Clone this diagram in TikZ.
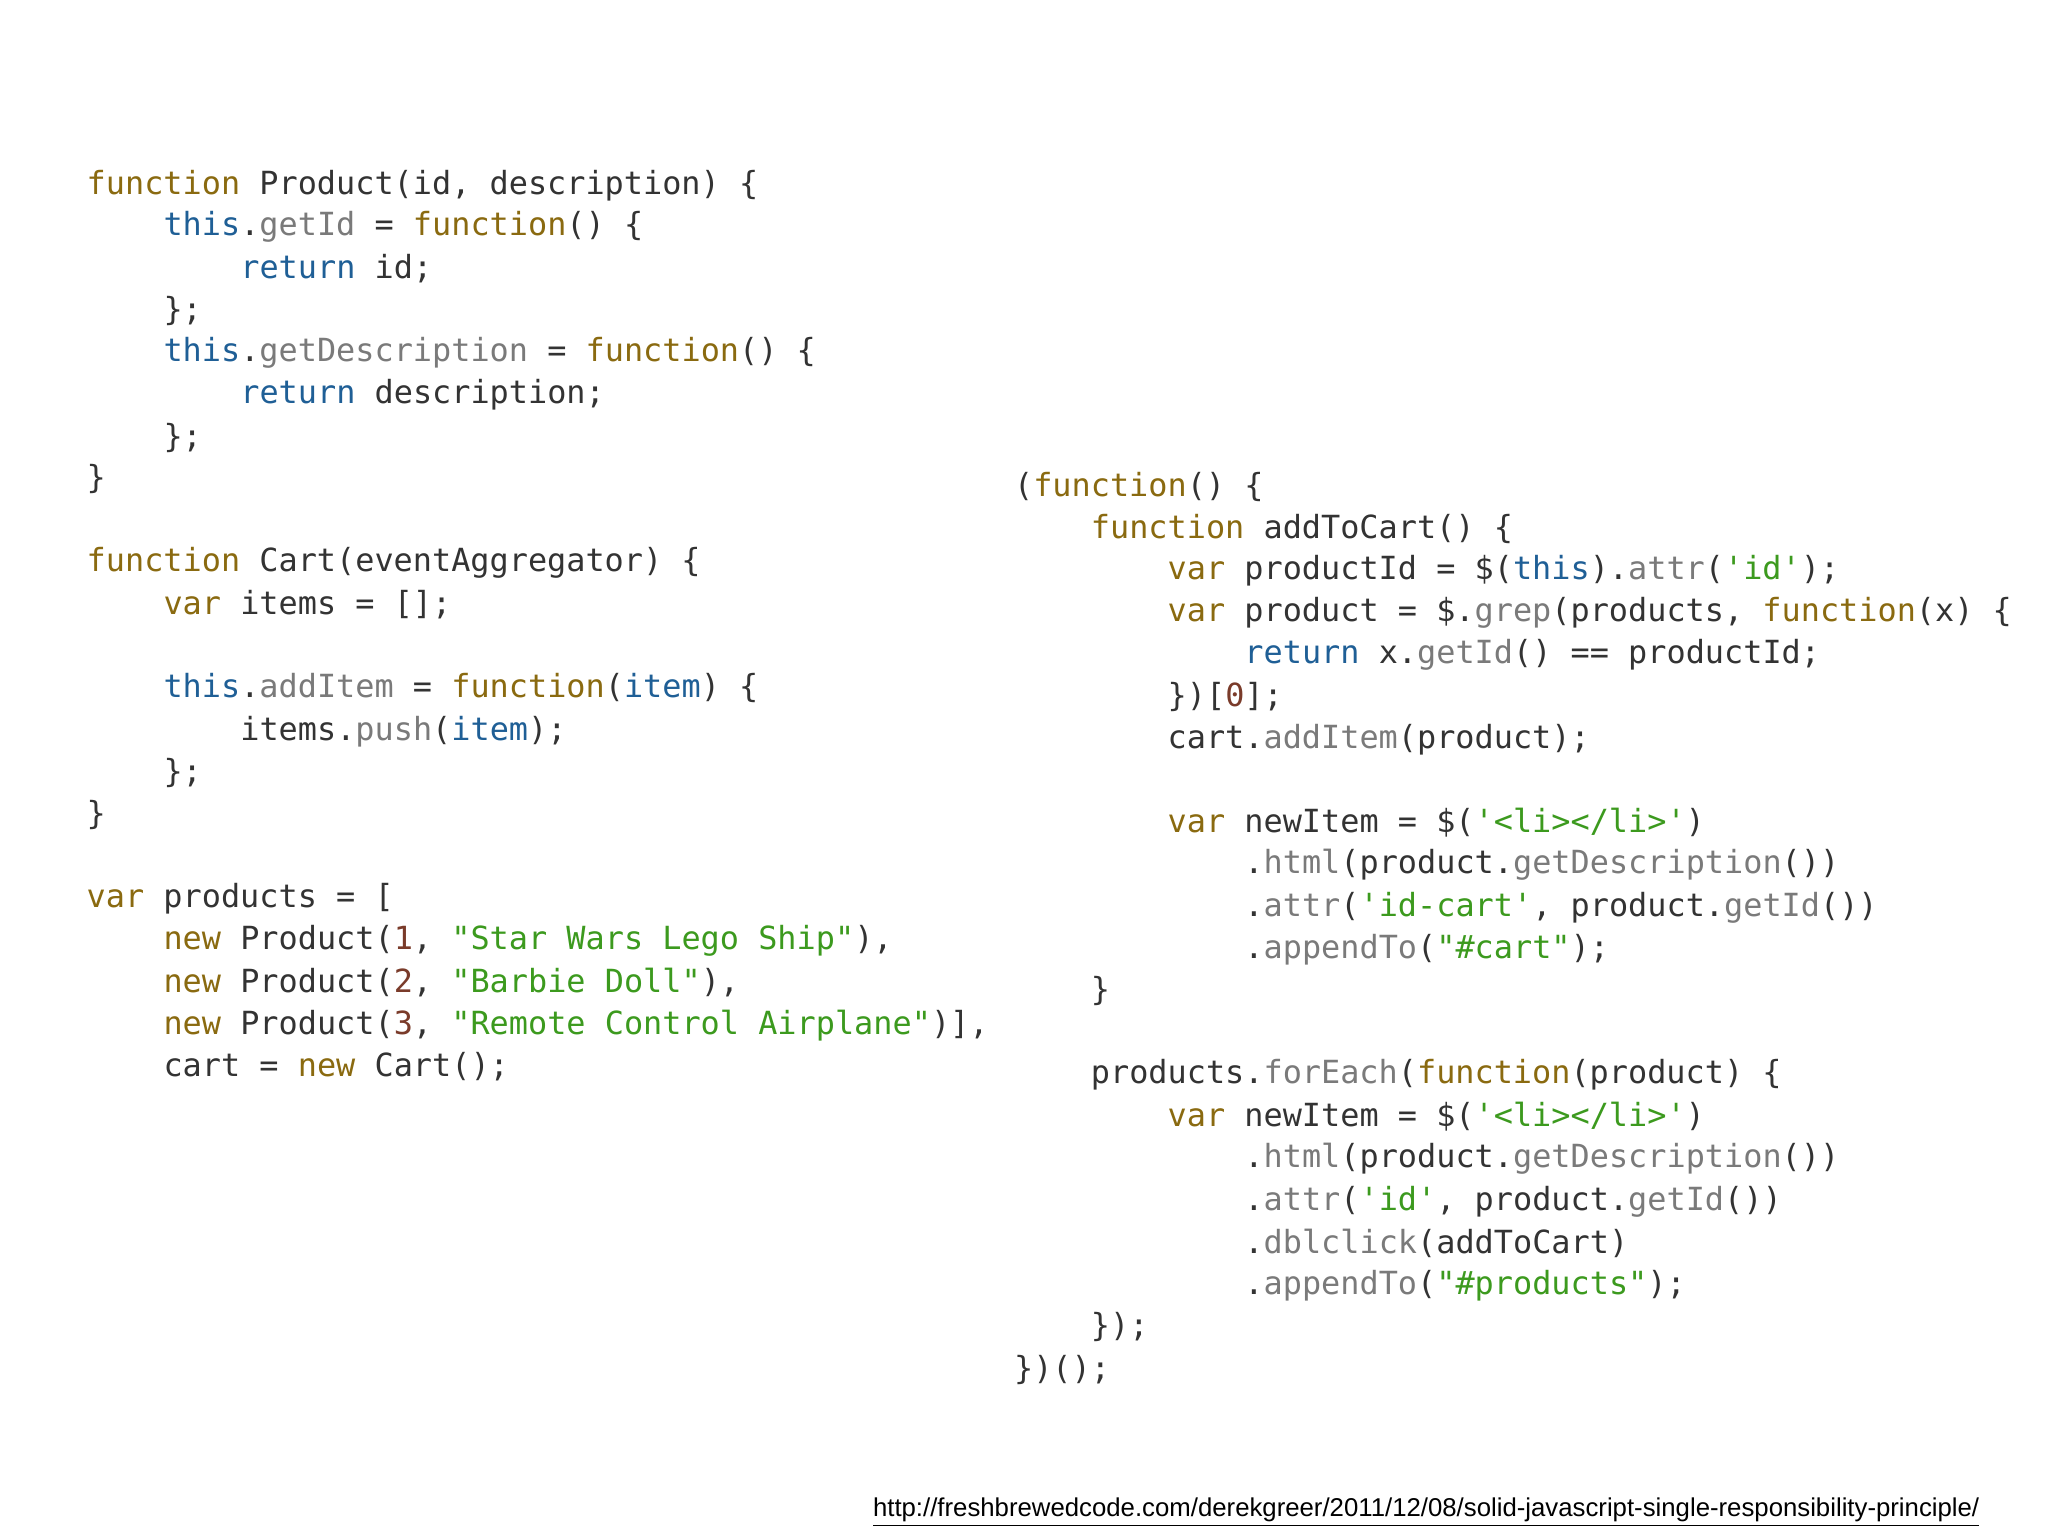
\documentclass[tikz,border=0pt]{standalone}
\usepackage{fontspec}
\newfontfamily\codefont{DejaVu Sans Mono}
\newfontfamily\urlfont{Liberation Sans}
\definecolor{kw}{HTML}{8A6A10}
\definecolor{bl}{HTML}{1F5F96}
\definecolor{st}{HTML}{3C9A1E}
\definecolor{me}{HTML}{7A7A7A}
\definecolor{nm}{HTML}{7A3B2A}
\definecolor{tx}{HTML}{333333}
\newcommand\kw[1]{\textcolor{kw}{#1}}
\newcommand\bl[1]{\textcolor{bl}{#1}}
\newcommand\st[1]{\textcolor{st}{#1}}
\newcommand\me[1]{\textcolor{me}{#1}}
\newcommand\nm[1]{\textcolor{nm}{#1}}
\begin{document}
\begin{tikzpicture}[x=0.5pt,y=-0.5pt,
  cl/.style={anchor=west,inner sep=0pt,text=tx,font=\codefont\fontsize{12.2}{14}\selectfont}]
\useasboundingbox[fill=white] (0,0) rectangle (1568,1176);
\def\L{66}\def\R{776}\def\I{58.8}
% left column
\node[cl] (a1) at (\L,142) {\kw{function} Product(id, description) \{};
\node[cl] (a2) at (\L+\I,174) {\bl{this}.\me{getId} = \kw{function}() \{};
\node[cl] (a3) at (\L+2*\I,206) {\bl{return} id;};
\node[cl] (a4) at (\L+\I,238) {\};};
\node[cl] (a5) at (\L+\I,270) {\bl{this}.\me{getDescription} = \kw{function}() \{};
\node[cl] (a6) at (\L+2*\I,302) {\bl{return} description;};
\node[cl] (a7) at (\L+\I,335) {\};};
\node[cl] (a8) at (\L,367) {\}};
\node[cl] (a9) at (\L,431) {\kw{function} Cart(eventAggregator) \{};
\node[cl] (a10) at (\L+\I,463) {\kw{var} items = [];};
\node[cl] (a11) at (\L+\I,527) {\bl{this}.\me{addItem} = \kw{function}(\bl{item}) \{};
\node[cl] (a12) at (\L+2*\I,560) {items.\me{push}(\bl{item});};
\node[cl] (a13) at (\L+\I,592) {\};};
\node[cl] (a14) at (\L,624) {\}};
\node[cl] (a15) at (\L,688) {\kw{var} products = [};
\node[cl] (a16) at (\L+\I,720) {\kw{new} Product(\nm{1}, \st{"Star Wars Lego Ship"}),};
\node[cl] (a17) at (\L+\I,752) {\kw{new} Product(\nm{2}, \st{"Barbie Doll"}),};
\node[cl] (a18) at (\L+\I,785) {\kw{new} Product(\nm{3}, \st{"Remote Control Airplane"})],};
\node[cl] (a19) at (\L+\I,817) {cart = \kw{new} Cart();};
% right column
\node[cl] (b1) at (\R,373) {(\kw{function}() \{};
\node[cl] (b2) at (\R+\I,405) {\kw{function} addToCart() \{};
\node[cl] (b3) at (\R+2*\I,437) {\kw{var} productId = \$(\bl{this}).\me{attr}(\st{'id'});};
\node[cl] (b4) at (\R+2*\I,469) {\kw{var} product = \$.\me{grep}(products, \kw{function}(x) \{};
\node[cl] (b5) at (\R+3*\I,501) {\bl{return} x.\me{getId}() == productId;};
\node[cl] (b6) at (\R+2*\I,534) {\})[\nm{0}];};
\node[cl] (b7) at (\R+2*\I,566) {cart.\me{addItem}(product);};
\node[cl] (b8) at (\R+2*\I,630) {\kw{var} newItem = \$(\st{'<li></li>'})};
\node[cl] (b9) at (\R+3*\I,662) {.\me{html}(product.\me{getDescription}())};
\node[cl] (b10) at (\R+3*\I,695) {.\me{attr}(\st{'id-cart'}, product.\me{getId}())};
\node[cl] (b11) at (\R+3*\I,727) {.\me{appendTo}(\st{"\#cart"});};
\node[cl] (b12) at (\R+\I,759) {\}};
\node[cl] (b13) at (\R+\I,823) {products.\me{forEach}(\kw{function}(product) \{};
\node[cl] (b14) at (\R+2*\I,855) {\kw{var} newItem = \$(\st{'<li></li>'})};
\node[cl] (b15) at (\R+3*\I,887) {.\me{html}(product.\me{getDescription}())};
\node[cl] (b16) at (\R+3*\I,920) {.\me{attr}(\st{'id'}, product.\me{getId}())};
\node[cl] (b17) at (\R+3*\I,952) {.\me{dblclick}(addToCart)};
\node[cl] (b18) at (\R+3*\I,984) {.\me{appendTo}(\st{"\#products"});};
\node[cl] (b19) at (\R+\I,1016) {\});};
\node[cl] (b20) at (\R,1049) {\})();};
% url
\node[anchor=west,inner sep=0pt,text=black] (url) at (668,1158) {\resizebox{423.5pt}{!}{\urlfont\fontsize{10}{12}\selectfont\underline{http://freshbrewedcode.com/derekgreer/2011/12/08/solid-javascript-single-responsibility-principle/}}};
\end{tikzpicture}
\end{document}
